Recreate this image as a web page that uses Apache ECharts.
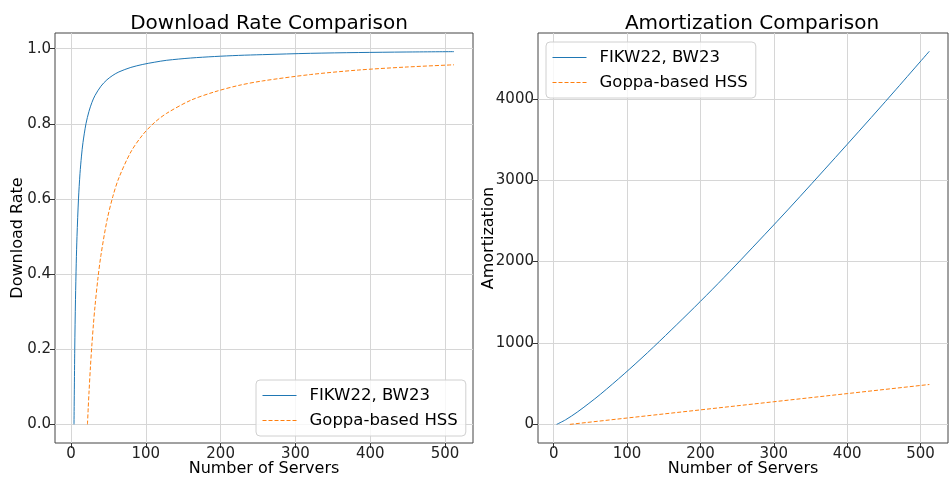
<!DOCTYPE html>
<html>
<head>
<meta charset="utf-8">
<script src="https://cdn.jsdelivr.net/npm/echarts@6/dist/echarts.min.js"></script>
<style>
html,body{margin:0;padding:0;background:#fff;}
#c{width:949px;height:477px;}
</style>
</head>
<body>
<div id="c"></div>
<script>
// ---- data ----
const seriesNames = ['FIKW22, BW23', 'Goppa-based HSS'];

// Download rate, FIKW22/BW23
const rateBlueN = [4,5,6,7,8,10,12,14,16,20,24,28,32,40,48,56,64,80,96,112,128,160,192,224,256,320,384,448,512];
const rateBlueY = [0,0.2,0.333,0.429,0.5,0.6,0.667,0.714,0.75,0.8,0.833,0.857,0.875,0.9,0.917,0.929,0.938,0.95,0.958,0.964,0.969,0.975,0.979,0.982,0.984,0.9875,0.9896,0.991,0.992];
// Download rate, Goppa-based HSS
const rateOrangeN = [22,23,24,26,28,30,32,36,40,48,56,64,80,96,112,128,160,192,224,256,320,384,448,512];
const rateOrangeY = [0,0.043,0.083,0.154,0.214,0.267,0.313,0.389,0.45,0.542,0.607,0.656,0.725,0.771,0.804,0.828,0.8625,0.885,0.902,0.914,0.931,0.943,0.951,0.957];

// Amortization, FIKW22/BW23
const amoBlueN = [4,16,32,48,64,96,128,160,192,224,256,320,384,448,512];
const amoBlueY = [0,55,150,258,372,620,882,1158,1440,1730,2030,2645,3280,3925,4585];
// Amortization, Goppa-based HSS
const amoOrangeN = [22,100,200,300,400,512];
const amoOrangeY = [0,78,178,278,378,490];

// tick labels
const xTicks = [0,100,200,300,400,500];
const rateTicks = [0,0.2,0.4,0.6,0.8,1.0];
const amoTicks = [0,1000,2000,3000,4000];

const titles = ['Download Rate Comparison', 'Amortization Comparison'];
const xName = 'Number of Servers';
const yNames = ['Download Rate', 'Amortization'];

// ---- chart ----
const zip = (a, b) => a.map((v, i) => [v, b[i]]);
const BLUE = '#1f77b4', ORANGE = '#ff7f0e';
const FONT = 'DejaVu Sans';
const chart = echarts.init(document.getElementById('c'), null, {renderer: 'canvas'});

function xAxis(gi) {
  return {
    type: 'value', gridIndex: gi, min: -21.4, max: 537.4,
    name: xName, nameLocation: 'middle', nameGap: 26, nameMoveOverlap: false,
    nameTextStyle: {fontFamily: FONT, fontSize: 16, color: '#000', verticalAlign: 'middle', lineHeight: 18},
    axisLine: {show: false, onZero: false},
    axisTick: {show: true, length: 5, inside: false, customValues: xTicks, lineStyle: {color: '#333', width: 1}},
    axisLabel: {customValues: xTicks, fontFamily: FONT, fontSize: 15, color: '#222', margin: 4},
    splitLine: {show: true, lineStyle: {color: '#d6d6d6', width: 1}}
  };
}
function yAxis(gi, min, max, ticks, fmt, gap) {
  return {
    type: 'value', gridIndex: gi, min: min, max: max,
    name: yNames[gi], nameLocation: 'middle', nameGap: gap, nameRotate: 90, nameMoveOverlap: false,
    nameTextStyle: {fontFamily: FONT, fontSize: 16, color: '#000'},
    axisLine: {show: false, onZero: false},
    axisTick: {show: true, length: 5, inside: false, customValues: ticks, lineStyle: {color: '#333', width: 1}},
    axisLabel: {customValues: ticks, formatter: fmt, fontFamily: FONT, fontSize: 15, color: '#222', margin: 4},
    splitLine: {show: true, lineStyle: {color: '#d6d6d6', width: 1}}
  };
}
function legend(left, top, data) {
  return {
    show: true,
    left: left, top: top, orient: 'vertical', data: data,
    itemWidth: 34, itemHeight: 10, itemGap: 8,
    padding: [7, 8, 7, 6],
    borderColor: '#d0d0d0', borderWidth: 1, borderRadius: 4,
    backgroundColor: 'rgba(255,255,255,0.8)',
    itemStyle: {opacity: 0},
    lineStyle: {width: 1},
    textStyle: {fontFamily: FONT, fontSize: 16.5, color: '#000', padding: [0, 0, 0, 8]}
  };
}

const option = {
  animation: false,
  backgroundColor: '#fff',
  title: [
    {text: titles[0], left: 264, top: 9, textAlign: 'center', textStyle: {fontFamily: FONT, fontSize: 20, fontWeight: 'normal', color: '#000'}},
    {text: titles[1], left: 747, top: 9, textAlign: 'center', textStyle: {fontFamily: FONT, fontSize: 20, fontWeight: 'normal', color: '#000'}}
  ],
  grid: [
    {left: 55, top: 33, width: 418, height: 410, outerBoundsMode: 'none', containLabel: false, show: true, borderColor: '#444', borderWidth: 1, backgroundColor: 'transparent'},
    {left: 538, top: 33, width: 410, height: 410, outerBoundsMode: 'none', containLabel: false, show: true, borderColor: '#444', borderWidth: 1, backgroundColor: 'transparent'}
  ],
  xAxis: [xAxis(0), xAxis(1)],
  yAxis: [
    yAxis(0, -0.0496, 1.0416, rateTicks, v => v.toFixed(1), 29),
    yAxis(1, -229, 4809, amoTicks, v => String(v), 41)
  ],
  legend: [legend(256, 380, seriesNames), legend(546, 42, seriesNames)],
  series: [
    {name: seriesNames[0], type: 'line', xAxisIndex: 0, yAxisIndex: 0, data: zip(rateBlueN, rateBlueY), showSymbol: false, symbol: 'none', smooth: 0.3, lineStyle: {color: BLUE, width: 1}, itemStyle: {color: BLUE}},
    {name: seriesNames[1], type: 'line', xAxisIndex: 0, yAxisIndex: 0, data: zip(rateOrangeN, rateOrangeY), showSymbol: false, symbol: 'none', smooth: 0.3, lineStyle: {color: ORANGE, width: 1, type: [4, 2]}, itemStyle: {color: ORANGE}},
    {name: seriesNames[0], type: 'line', xAxisIndex: 1, yAxisIndex: 1, data: zip(amoBlueN, amoBlueY), showSymbol: false, symbol: 'none', smooth: 0.3, lineStyle: {color: BLUE, width: 1}, itemStyle: {color: BLUE}},
    {name: seriesNames[1], type: 'line', xAxisIndex: 1, yAxisIndex: 1, data: zip(amoOrangeN, amoOrangeY), showSymbol: false, symbol: 'none', lineStyle: {color: ORANGE, width: 1, type: [4, 2]}, itemStyle: {color: ORANGE}}
  ]
};
chart.setOption(option);
</script>
</body>
</html>
